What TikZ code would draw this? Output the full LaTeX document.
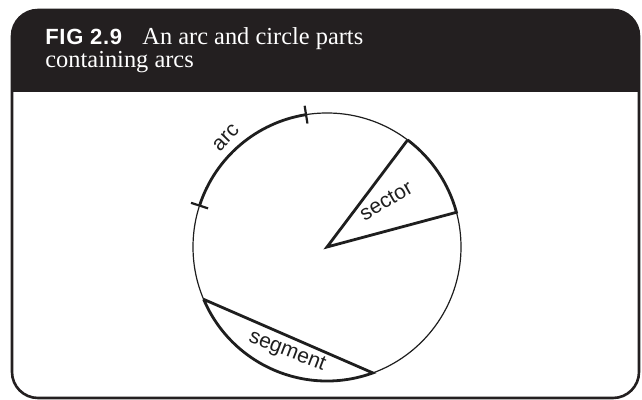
\documentclass[tikz,border=0pt]{standalone}
\usepackage{fontspec}
\setmainfont{Liberation Serif}
\setsansfont{Liberation Sans}
\newfontfamily\headserif{Liberation Serif}
\newfontfamily\headsans[LetterSpace=3]{Liberation Sans}
\usepackage{tikz}
\usetikzlibrary{calc}
\definecolor{headblack}{RGB}{35,31,32}
\definecolor{figline}{RGB}{30,30,30}
\tikzset{
  frame/.style    = {draw=headblack, line width=1.3pt, rounded corners=13pt},
  thinline/.style = {draw=figline, line width=0.6pt},
  thickline/.style= {draw=figline, line width=1.4pt},
  ticks/.style    = {draw=figline, line width=1.1pt},
  lbl/.style      = {font=\sffamily\fontsize{10.5}{12}\selectfont, text=figline, inner sep=0pt},
  headtxt/.style  = {anchor=base west, inner sep=0pt, text=white},
}

\begin{document}
\begin{tikzpicture}[x=0.5pt,y=0.5pt]
\useasboundingbox (0,0) rectangle (642,400);

% Header bar
\fill[headblack] (12,308) {[rounded corners=13pt] -- (12,390) -- (639,390)} -- (639,308) -- cycle;
\node[headtxt] (fig) at (45,355) {\headsans\bfseries\fontsize{11}{12}\selectfont FIG 2.9};
\node[headtxt] (title1) at (142,355) {\headserif\fontsize{12.2}{13}\selectfont An arc and circle parts};
\node[headtxt] (title2) at (45,332) {\headserif\fontsize{12.2}{13}\selectfont containing arcs};

% Frame
\draw[frame] (12,2) rectangle (639,390);

% Circle
\coordinate (ctr) at (327,153);
\def\rad{134}
\draw[thinline] (ctr) circle (\rad);

% Sector
\coordinate (secA) at ($(ctr)+(53:\rad)$);
\coordinate (secB) at ($(ctr)+(15:\rad)$);
\draw[thickline, line join=miter] (secA) -- (ctr) -- (secB) arc[start angle=15, end angle=53, radius=\rad];
\node[lbl, rotate=30] (sector) at (386,199) {sector};

% Arc
\coordinate (arcA) at ($(ctr)+(99:\rad)$);
\coordinate (arcB) at ($(ctr)+(162:\rad)$);
\draw[thickline] (arcA) arc[start angle=99, end angle=162, radius=\rad];
\draw[ticks] ($(ctr)+(99:\rad-9)$) -- ($(ctr)+(99:\rad+9)$);
\draw[ticks] ($(ctr)+(162:\rad-9)$) -- ($(ctr)+(162:\rad+9)$);
\node[lbl, rotate=46] (arc) at (226,262) {arc};

% Segment
\coordinate (segA) at ($(ctr)+(203:\rad)$);
\coordinate (segB) at ($(ctr)+(290:\rad)$);
\draw[thickline] (segA) -- (segB) arc[start angle=290, end angle=203, radius=\rad];
\node[lbl, rotate=-21] (segment) at (287,48) {segment};

\end{tikzpicture}
\end{document}
